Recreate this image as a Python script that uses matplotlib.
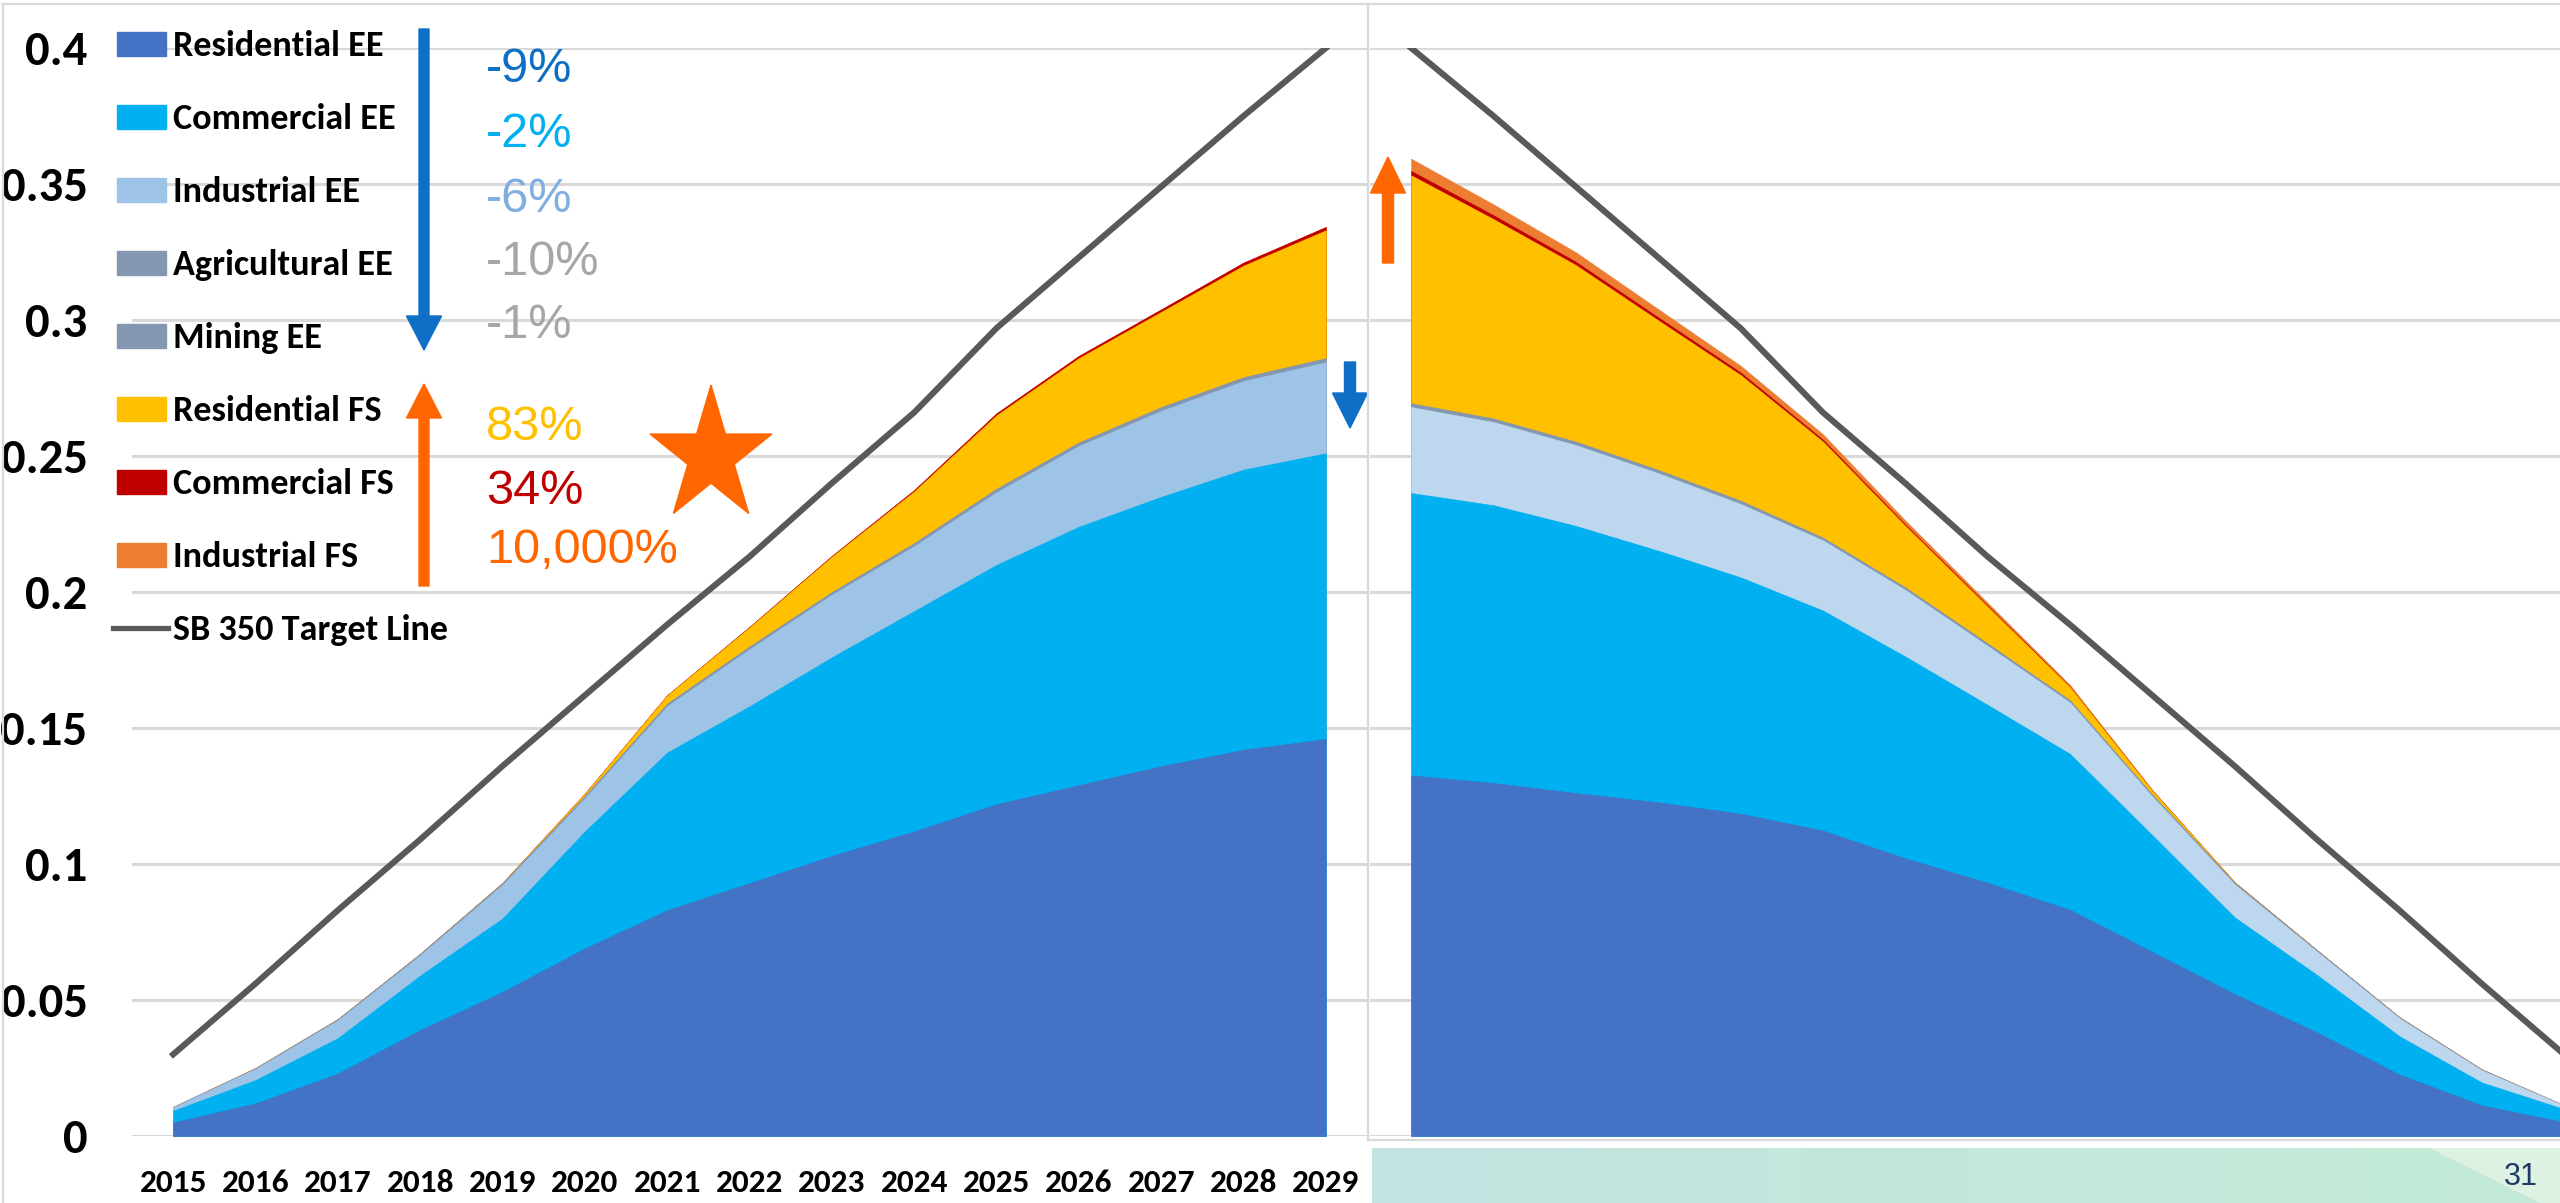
import numpy as np
import matplotlib
matplotlib.use('Agg')
from matplotlib import pyplot as plt
from matplotlib.patches import Polygon, Rectangle
from matplotlib.lines import Line2D
from matplotlib.colors import LinearSegmentedColormap

cal = ['Carlito', 'Liberation Sans', 'DejaVu Sans']
arial = ['Liberation Sans', 'DejaVu Sans']

years = ['2015', '2016', '2017', '2018', '2019', '2020', '2021', '2022',
         '2023', '2024', '2025', '2026', '2027', '2028', '2029']
y_labels = ['0', '0.05', '0.1', '0.15', '0.2', '0.25', '0.3', '0.35', '0.4']

# SB 350 doubling target
target = [0.030, 0.056, 0.083, 0.109, 0.136, 0.162, 0.188, 0.213,
          0.240, 0.266, 0.297, 0.323, 0.349, 0.375, 0.400]

# current forecast
res_ee = [0.0050, 0.0120, 0.0230, 0.0390, 0.0530, 0.0690, 0.0830, 0.0930,
          0.1030, 0.1120, 0.1220, 0.1290, 0.1360, 0.1420, 0.1460]
com_ee = [0.0043, 0.0086, 0.0130, 0.0200, 0.0270, 0.0430, 0.0580, 0.0650,
          0.0730, 0.0810, 0.0880, 0.0950, 0.0990, 0.1030, 0.1050]
ind_ee = [0.0013, 0.0041, 0.0066, 0.0075, 0.0124, 0.0122, 0.0171, 0.0210,
          0.0230, 0.0239, 0.0267, 0.0297, 0.0316, 0.0326, 0.0335]
ag_ee = [0.0001, 0.0002, 0.0003, 0.0004, 0.0005, 0.0006, 0.0007, 0.0008,
         0.0008, 0.0009, 0.0010, 0.0010, 0.0011, 0.0011, 0.0012]
mining_ee = [0.0000, 0.0001, 0.0001, 0.0001, 0.0001, 0.0002, 0.0002, 0.0002,
             0.0002, 0.0002, 0.0003, 0.0003, 0.0003, 0.0003, 0.0003]
res_fs = [0.0, 0.0, 0.0, 0.0, 0.0001, 0.0008, 0.0030, 0.0070,
          0.0130, 0.0190, 0.0270, 0.0310, 0.0350, 0.0410, 0.0470]
com_fs = [0.0, 0.0, 0.0, 0.0, 0.0, 0.0001, 0.0001, 0.0002,
          0.0003, 0.0005, 0.0007, 0.0008, 0.0009, 0.0011, 0.0012]
ind_fs = [0.0, 0.0, 0.0, 0.0, 0.0, 0.0, 0.0, 0.0,
          0.0, 0.0, 0.00001, 0.00002, 0.00003, 0.00004, 0.00005]

# updated forecast
res_ee_new = [0.0051, 0.0113, 0.0226, 0.0381, 0.0522, 0.0677, 0.0832, 0.0931,
              0.1021, 0.1123, 0.1185, 0.1227, 0.1261, 0.1298, 0.1326]
com_ee_new = [0.0048, 0.0084, 0.0141, 0.0211, 0.0282, 0.0429, 0.0573, 0.0654,
              0.0742, 0.0809, 0.0869, 0.0925, 0.0982, 0.1021, 0.1038]
ind_ee_new = [0.0013, 0.0045, 0.0066, 0.0086, 0.0121, 0.0142, 0.0189, 0.0217,
              0.0245, 0.0258, 0.0270, 0.0285, 0.0297, 0.0306, 0.0316]
ag_ee_new = [0.0001, 0.0002, 0.0003, 0.0004, 0.0005, 0.0005, 0.0006, 0.0007,
             0.0007, 0.0008, 0.0009, 0.0009, 0.0010, 0.0010, 0.0011]
mining_ee_new = [0.0000, 0.0001, 0.0001, 0.0001, 0.0001, 0.0002, 0.0002, 0.0002,
                 0.0002, 0.0002, 0.0003, 0.0003, 0.0003, 0.0003, 0.0003]
res_fs_new = [0.0, 0.0, 0.0, 0.0, 0.0002, 0.0014, 0.0048, 0.0135,
              0.0226, 0.0353, 0.0462, 0.0550, 0.0649, 0.0733, 0.0838]
com_fs_new = [0.0, 0.0, 0.0, 0.0, 0.0, 0.0001, 0.0002, 0.0004,
              0.0005, 0.0007, 0.0009, 0.0011, 0.0012, 0.0014, 0.0016]
ind_fs_new = [0.0, 0.0, 0.0, 0.0, 0.0, 0.0002, 0.0006, 0.0010,
              0.0015, 0.0020, 0.0025, 0.0030, 0.0035, 0.0040, 0.0045]

series = ['Residential EE', 'Commercial EE', 'Industrial EE', 'Agricultural EE',
          'Mining EE', 'Residential FS', 'Commercial FS', 'Industrial FS']
changes = ['-9%', '-2%', '-6%', '-10%', '-1%', '83%', '34%', '10,000%']

colors = ['#4472C4', '#00B0F0', '#9DC3E6', '#8497B0', '#8497B0',
          '#FFC000', '#C00000', '#ED7D31']
colors_new = ['#4472C4', '#00B0F0', '#BDD7EE', '#8497B0', '#8497B0',
              '#FFC000', '#C00000', '#ED7D31']
change_colors = ['#0F6FC6', '#00B0F0', '#7FAEE0', '#A6A6A6', '#A6A6A6',
                 '#FFC000', '#C00000', '#FF6600']
grid_c = '#D9D9D9'
line_c = '#595959'

W, H = 2560, 1203
def fx(x):
    return x / W
def fy(y):
    return 1 - y / H

def stacked(ax, layers, cols):
    # paint cumulative totals from the top layer down so no seams show
    tops = np.cumsum(np.array(layers), axis=0)
    for top, c in reversed(list(zip(tops, cols))):
        ax.fill_between(x, 0, top, color=c, lw=0.4, edgecolor=c)

fig = plt.figure(figsize=(25.6, 12.03), dpi=100)
x = np.arange(len(years))

# left chart
ax1 = fig.add_axes([fx(132), fy(1136), (1367 - 132) / W, (1136 - 48) / H])
stacked(ax1, [res_ee, com_ee, ind_ee, ag_ee, mining_ee, res_fs, com_fs, ind_fs], colors)
ax1.plot(x, target, color=line_c, lw=4.4)
ax1.set_xlim(-0.5, 14.5)
ax1.set_ylim(0, 0.4)
ax1.set_yticks(np.arange(0, 0.401, 0.05), y_labels)
ax1.set_xticks(x, years)
ax1.tick_params(length=0)
ax1.tick_params(axis='y', pad=32)
ax1.tick_params(axis='x', pad=24)
for lab in ax1.get_yticklabels():
    lab.set_fontfamily(cal)
    lab.set_fontweight('bold')
    lab.set_fontsize(35)
for lab in ax1.get_xticklabels():
    lab.set_fontfamily(cal)
    lab.set_fontweight('bold')
    lab.set_fontsize(24)

# mirrored chart for the updated forecast
ax2 = fig.add_axes([fx(1370), fy(1136), (2560 - 1370) / W, (1136 - 48) / H])
stacked(ax2, [res_ee_new, com_ee_new, ind_ee_new, ag_ee_new, mining_ee_new,
              res_fs_new, com_fs_new, ind_fs_new], colors_new)
ax2.plot(x, target, color=line_c, lw=4.4)
ax2.set_xlim(14.5, 0.05)
ax2.set_ylim(0, 0.4)
ax2.set_yticks(np.arange(0, 0.401, 0.05))
ax2.set_xticks([])
ax2.tick_params(length=0, labelleft=False)

for ax in (ax1, ax2):
    ax.set_axisbelow(True)
    ax.grid(axis='y', color=grid_c, lw=2.2)
    ax.grid(axis='x', visible=False)
    for s in ax.spines.values():
        s.set_visible(False)

# chart borders
for (x0, y0, x1, y1) in [(2, 4, 1368, 4), (3, 4, 3, 1203), (1368, 4, 1368, 1140),
                         (1370, 4, 2560, 4), (1368, 1140, 2560, 1140)]:
    fig.add_artist(Line2D([fx(x0), fx(x1)], [fy(y0), fy(y1)], color=grid_c, lw=1.6,
                          transform=fig.transFigure))

# legend
for i, name in enumerate(series):
    yc = 44 + 73 * i
    fig.add_artist(Rectangle((fx(117), fy(yc + 12)), 49 / W, 24 / H, color=colors[i],
                             transform=fig.transFigure))
    fig.text(fx(173), fy(yc + 12), name, fontsize=26, fontweight='bold',
             fontfamily=cal, va='baseline', ha='left')
yc = 44 + 73 * 8
fig.add_artist(Line2D([fx(113), fx(168)], [fy(yc), fy(yc)], color=line_c, lw=3.8,
                      transform=fig.transFigure))
fig.text(fx(173), fy(yc + 12), 'SB 350 Target Line', fontsize=26, fontweight='bold',
         fontfamily=cal, va='baseline', ha='left')

# percent changes
baselines = [82, 147, 212, 275, 338, 440, 504, 563]
for txt, c, b in zip(changes, change_colors, baselines):
    fig.text(fx(486), fy(b), txt, fontsize=35, color=c, fontfamily=arial,
             va='baseline', ha='left')

def arrow(xc, y_tail, y_tip, shaft, head_w, head_l, color):
    d = 1 if y_tip > y_tail else -1
    yb = y_tip - d * head_l
    pts = [(xc - shaft / 2, y_tail), (xc + shaft / 2, y_tail), (xc + shaft / 2, yb),
           (xc + head_w / 2, yb), (xc, y_tip), (xc - head_w / 2, yb), (xc - shaft / 2, yb)]
    fig.add_artist(Polygon([(fx(a), fy(b)) for a, b in pts], closed=True, color=color,
                           transform=fig.transFigure))

arrow(424, 29, 350, 10, 35, 34, '#0F6FC6')
arrow(424, 586, 384, 10, 35, 34, '#FF6600')
arrow(1350, 362, 428, 11, 35, 35, '#0F6FC6')
arrow(1388, 263, 157, 11, 35, 36, '#FF6600')

# star
cx, cy, rx, ry = 711, 456, 64, 71
ang = np.deg2rad(-90 + 36 * np.arange(10))
rr = np.where(np.arange(10) % 2 == 0, 1.0, 0.382)
star = [(fx(cx + rx * r * np.cos(a)), fy(cy + ry * r * np.sin(a))) for a, r in zip(ang, rr)]
fig.add_artist(Polygon(star, closed=True, color='#FF6600', transform=fig.transFigure))

# footer band with page number
band = fig.add_axes([fx(1372), 0, (2560 - 1372) / W, (1203 - 1148) / H])
grad = np.linspace(0, 1, 256).reshape(1, -1)
band.imshow(grad, aspect='auto', extent=[0, 1, 0, 1],
            cmap=LinearSegmentedColormap.from_list('band', ['#C4E4E1', '#C3EAD6']))
band.add_patch(Polygon([((2431 - 1372) / 1188, 1), (1, 1), (1, 0), ((2542 - 1372) / 1188, 0)],
                       closed=True, color='#DDF2E3'))
band.set_xlim(0, 1)
band.set_ylim(0, 1)
band.axis('off')
fig.text(fx(2521), fy(1185), '31', fontsize=22, color='#1F3864', fontfamily=arial,
         ha='center', va='baseline')

fig.savefig('out.png', dpi=100)
